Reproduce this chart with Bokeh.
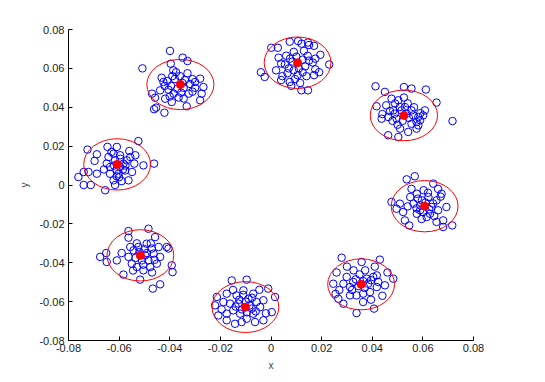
from bokeh.plotting import figure
from bokeh.models import Range1d, FixedTicker
from bokeh.embed import file_html
from bokeh.resources import INLINE

# cluster centres (red dots)
center_x = [-0.0358, 0.0105, 0.0525, -0.0608, 0.0607, -0.0516, -0.0101, 0.0356]
center_y = [0.0517, 0.0629, 0.0358, 0.0106, -0.0109, -0.0362, -0.0628, -0.0511]
# ellipse extents (data units)
ell_w = [0.0265, 0.0264, 0.0266, 0.0264, 0.0264, 0.0264, 0.0264, 0.0264]
ell_h = [0.0258, 0.0265, 0.0261, 0.0264, 0.0264, 0.0264, 0.0262, 0.0262]

c1 = [(-0.0399,0.0690),(-0.0508,0.0600),(-0.0349,0.0655),(-0.0330,0.0638),(-0.0396,0.0624),(-0.0386,0.0590),
      (-0.0432,0.0552),(-0.0425,0.0530),(-0.0280,0.0547),(-0.0267,0.0504),(-0.0274,0.0470),(-0.0280,0.0436),
      (-0.0333,0.0405),(-0.0392,0.0427),(-0.0418,0.0444),(-0.0458,0.0449),(-0.0454,0.0398),(-0.0462,0.0390),
      (-0.0421,0.0372),(-0.0470,0.0470),(-0.0438,0.0487),(-0.0360,0.0560),(-0.0380,0.0545),(-0.0340,0.0540),
      (-0.0395,0.0510),(-0.0370,0.0495),(-0.0345,0.0500),(-0.0320,0.0520),(-0.0310,0.0545),(-0.0355,0.0475),
      (-0.0385,0.0470),(-0.0405,0.0490),(-0.0410,0.0535),(-0.0375,0.0580),(-0.0330,0.0575),(-0.0300,0.0500),
      (-0.0325,0.0470),(-0.0365,0.0450),(-0.0400,0.0455),(-0.0350,0.0525),(-0.0390,0.0560),(-0.0300,0.0530),
      (-0.0420,0.0510),(-0.0345,0.0445),(-0.0310,0.0480)]
c2 = [(0.0230,0.0620),(-0.0040,0.0580),(-0.0025,0.0556),(0.0001,0.0706),(0.0027,0.0706),(0.0074,0.0737),
      (0.0107,0.0740),(0.0146,0.0733),(0.0170,0.0716),(0.0121,0.0727),(0.0150,0.0720),(0.0120,0.0487),
      (0.0146,0.0487),(0.0080,0.0510),(0.0074,0.0530),(0.0020,0.0590),(0.0040,0.0540),(0.0045,0.0560),
      (0.0065,0.0575),(0.0055,0.0620),(0.0075,0.0650),(0.0060,0.0665),(0.0175,0.0595),(0.0170,0.0565),
      (0.0190,0.0580),(0.0165,0.0630),(0.0145,0.0665),(0.0175,0.0650),(0.0100,0.0660),(0.0125,0.0645),
      (0.0085,0.0635),(0.0110,0.0600),(0.0135,0.0610),(0.0090,0.0590),(0.0105,0.0565),(0.0125,0.0580),
      (0.0095,0.0545),(0.0115,0.0525),(0.0130,0.0690),(0.0090,0.0685),(0.0150,0.0640),(0.0070,0.0600),
      (0.0140,0.0560),(0.0040,0.0625),(0.0030,0.0655),(0.0195,0.0670)]
c3 = [(0.0413,0.0508),(0.0450,0.0479),(0.0525,0.0504),(0.0555,0.0496),(0.0612,0.0491),(0.0654,0.0424),
      (0.0717,0.0329),(0.0608,0.0384),(0.0601,0.0358),(0.0582,0.0307),(0.0575,0.0290),(0.0463,0.0256),
      (0.0503,0.0247),(0.0542,0.0273),(0.0437,0.0341),(0.0417,0.0405),(0.0476,0.0444),(0.0503,0.0436),
      (0.0483,0.0384),(0.0463,0.0350),(0.0496,0.0341),(0.0516,0.0384),(0.0536,0.0367),(0.0562,0.0358),
      (0.0555,0.0384),(0.0529,0.0401),(0.0509,0.0401),(0.0489,0.0367),(0.0582,0.0350),(0.0589,0.0333),
      (0.0575,0.0324),(0.0520,0.0330),(0.0545,0.0345),(0.0500,0.0310),(0.0470,0.0380),(0.0455,0.0410),
      (0.0490,0.0420),(0.0540,0.0420),(0.0565,0.0400),(0.0510,0.0290),(0.0440,0.0365),(0.0590,0.0370),
      (0.0555,0.0315),(0.0480,0.0330),(0.0525,0.0450)]
c4 = [(-0.0524,0.0226),(-0.0462,0.0110),(-0.0504,0.0101),(-0.0725,0.0182),(-0.0761,0.0041),(-0.0740,0.0067),
      (-0.0740,0.0000),(-0.0712,0.0000),(-0.0655,-0.0027),(-0.0688,0.0058),(-0.0721,0.0067),(-0.0688,0.0158),
      (-0.0697,0.0124),(-0.0646,0.0196),(-0.0609,0.0196),(-0.0563,0.0024),(-0.0616,0.0000),(-0.0622,0.0024),
      (-0.0636,0.0058),(-0.0603,0.0058),(-0.0576,0.0075),(-0.0549,0.0067),(-0.0536,0.0153),(-0.0556,0.0144),
      (-0.0570,0.0127),(-0.0596,0.0153),(-0.0622,0.0161),(-0.0642,0.0144),(-0.0649,0.0110),(-0.0636,0.0093),
      (-0.0616,0.0127),(-0.0596,0.0093),(-0.0583,0.0110),(-0.0609,0.0075),(-0.0595,0.0135),(-0.0620,0.0100),
      (-0.0585,0.0080),(-0.0600,0.0040),(-0.0590,0.0020),(-0.0630,0.0170),(-0.0560,0.0175),(-0.0575,0.0100),
      (-0.0660,0.0080),(-0.0540,0.0110),(-0.0610,0.0045)]
c5 = [(0.0536,0.0029),(0.0568,0.0045),(0.0716,-0.0208),(0.0476,-0.0087),(0.0496,-0.0122),(0.0529,-0.0182),
      (0.0546,-0.0208),(0.0680,-0.0216),(0.0641,0.0007),(0.0674,-0.0045),(0.0693,-0.0113),(0.0680,-0.0182),
      (0.0654,-0.0190),(0.0615,-0.0165),(0.0576,-0.0148),(0.0563,-0.0096),(0.0596,-0.0079),(0.0622,-0.0062),
      (0.0603,-0.0027),(0.0576,-0.0045),(0.0550,-0.0062),(0.0589,-0.0130),(0.0634,-0.0113),(0.0654,-0.0079),
      (0.0628,-0.0148),(0.0509,-0.0096),(0.0522,-0.0139),(0.0610,-0.0090),(0.0625,-0.0125),(0.0590,-0.0105),
      (0.0600,-0.0140),(0.0640,-0.0095),(0.0575,-0.0120),(0.0620,-0.0040),(0.0660,-0.0130),(0.0670,-0.0060),
      (0.0555,-0.0020),(0.0595,-0.0175),(0.0645,-0.0160),(0.0660,-0.0020),(0.0580,-0.0070),(0.0540,-0.0110)]
c6 = [(-0.0484,-0.0225),(-0.0563,-0.0237),(-0.0563,-0.0271),(-0.0675,-0.0370),(-0.0649,-0.0396),(-0.0651,-0.0350),
      (-0.0609,-0.0388),(-0.0583,-0.0461),(-0.0517,-0.0487),(-0.0467,-0.0533),(-0.0438,-0.0511),(-0.0392,-0.0413),
      (-0.0389,-0.0448),(-0.0412,-0.0319),(-0.0405,-0.0327),(-0.0458,-0.0268),(-0.0491,-0.0302),(-0.0464,-0.0353),
      (-0.0451,-0.0405),(-0.0477,-0.0422),(-0.0504,-0.0439),(-0.0530,-0.0422),(-0.0550,-0.0405),(-0.0563,-0.0370),
      (-0.0543,-0.0336),(-0.0524,-0.0319),(-0.0497,-0.0362),(-0.0484,-0.0388),(-0.0510,-0.0388),(-0.0556,-0.0319),
      (-0.0471,-0.0327),(-0.0444,-0.0319),(-0.0438,-0.0370),(-0.0520,-0.0345),(-0.0500,-0.0330),(-0.0535,-0.0375),
      (-0.0505,-0.0410),(-0.0490,-0.0350),(-0.0530,-0.0300),(-0.0475,-0.0300),(-0.0545,-0.0440),(-0.0470,-0.0450),
      (-0.0590,-0.0350),(-0.0460,-0.0385)]
c7 = [(-0.0155,-0.0491),(-0.0096,-0.0487),(-0.0214,-0.0576),(-0.0221,-0.0619),(-0.0208,-0.0671),(-0.0175,-0.0696),
      (-0.0142,-0.0714),(-0.0030,-0.0696),(0.0003,-0.0654),(0.0016,-0.0576),(-0.0011,-0.0533),(-0.0046,-0.0539),
      (-0.0136,-0.0568),(-0.0109,-0.0542),(-0.0070,-0.0559),(-0.0030,-0.0593),(-0.0043,-0.0628),(-0.0070,-0.0662),
      (-0.0096,-0.0688),(-0.0122,-0.0662),(-0.0149,-0.0645),(-0.0162,-0.0610),(-0.0188,-0.0602),(-0.0175,-0.0559),
      (-0.0129,-0.0610),(-0.0089,-0.0585),(-0.0057,-0.0602),(-0.0076,-0.0636),(-0.0116,-0.0705),(-0.0063,-0.0705),
      (-0.0175,-0.0662),(-0.0100,-0.0600),(-0.0085,-0.0620),(-0.0115,-0.0640),(-0.0125,-0.0590),(-0.0095,-0.0655),
      (-0.0075,-0.0580),(-0.0110,-0.0565),(-0.0140,-0.0625),(-0.0060,-0.0650),(-0.0150,-0.0540),(-0.0020,-0.0660),
      (-0.0195,-0.0640)]
c8 = [(0.0279,-0.0374),(0.0430,-0.0384),(0.0259,-0.0450),(0.0246,-0.0508),(0.0266,-0.0585),(0.0286,-0.0611),
      (0.0338,-0.0659),(0.0364,-0.0602),(0.0407,-0.0636),(0.0450,-0.0516),(0.0483,-0.0482),(0.0358,-0.0396),
      (0.0372,-0.0439),(0.0326,-0.0439),(0.0299,-0.0473),(0.0312,-0.0525),(0.0286,-0.0508),(0.0378,-0.0482),
      (0.0404,-0.0473),(0.0418,-0.0525),(0.0391,-0.0551),(0.0364,-0.0559),(0.0338,-0.0568),(0.0312,-0.0568),
      (0.0325,-0.0499),(0.0384,-0.0508),(0.0424,-0.0499),(0.0418,-0.0465),(0.0345,-0.0520),(0.0365,-0.0495),
      (0.0335,-0.0485),(0.0370,-0.0530),(0.0395,-0.0490),(0.0320,-0.0540),(0.0350,-0.0460),(0.0440,-0.0570),
      (0.0460,-0.0450),(0.0270,-0.0540),(0.0395,-0.0590),(0.0300,-0.0420),(0.0410,-0.0420),(0.0255,-0.0560)]

tick_values = [-0.08, -0.06, -0.04, -0.02, 0.0, 0.02, 0.04, 0.06, 0.08]
tick_labels = ["-0.08", "-0.06", "-0.04", "-0.02", "0", "0.02", "0.04", "0.06", "0.08"]

p = figure(width=529, height=374, x_range=Range1d(-0.08, 0.08), y_range=Range1d(-0.08, 0.08),
           output_backend="svg", toolbar_location=None,
           min_border_left=68, min_border_right=56, min_border_top=29, min_border_bottom=34)
p.outline_line_color = None
p.grid.visible = False
p.background_fill_color = "white"
p.border_fill_color = "white"

for cl in [c1, c2, c3, c4, c5, c6, c7, c8]:
    xs = [q[0] for q in cl]
    ys = [q[1] for q in cl]
    p.scatter(xs, ys, marker="circle", size=7.5, fill_color=None, line_color="#0000ff", line_width=1)

p.ellipse(x=center_x, y=center_y, width=ell_w, height=ell_h, fill_color=None,
          line_color="#ff0000", line_width=1)
p.scatter(center_x, center_y, marker="circle", size=8, fill_color="#ff0000", line_color="#ff0000")

for ax in (p.xaxis[0], p.yaxis[0]):
    ax.ticker = FixedTicker(ticks=tick_values)
    ax.major_label_overrides = {v: l for v, l in zip(tick_values, tick_labels)}
    ax.major_tick_in = 4
    ax.major_tick_out = 0
    ax.minor_tick_line_color = None
    ax.axis_line_color = "black"
    ax.major_tick_line_color = "black"
    ax.major_label_text_font = "Liberation Sans"
    ax.major_label_text_font_size = "11px"
    ax.major_label_text_color = "#222222"
    ax.axis_label_text_font = "Liberation Sans"
    ax.axis_label_text_font_size = "10px"
    ax.axis_label_text_font_style = "normal"
    ax.axis_label_text_color = "#444444"

p.xaxis.axis_label = "x"
p.yaxis.axis_label = "y"
p.xaxis.major_label_standoff = 3
p.xaxis.axis_label_standoff = 5
p.yaxis.major_label_standoff = 4
p.yaxis.axis_label_standoff = 6

open("out.html", "w").write(file_html(p, INLINE))
